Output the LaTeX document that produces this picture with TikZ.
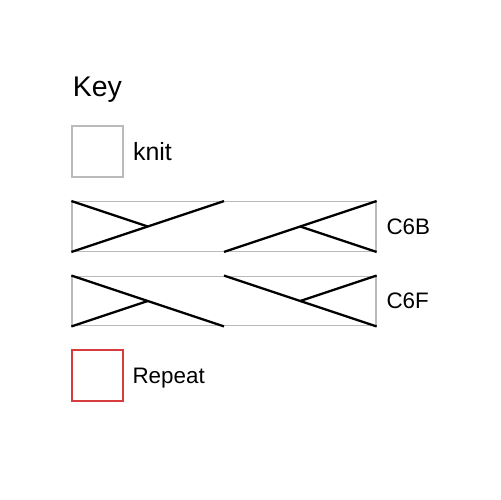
\documentclass[tikz,border=0pt]{standalone}
\usepackage{fontspec}
\setmainfont{Liberation Sans}
\usetikzlibrary{positioning,calc}
\definecolor{repeatred}{RGB}{214,60,60}

\begin{document}
\begin{tikzpicture}[x=0.02cm,y=-0.02cm,
    stitchbox/.style={draw=black!27,line width=0.8pt,inner sep=0pt,
        minimum width=1.02cm,minimum height=1.02cm},
    cablebox/.style={stitchbox,minimum width=6.08cm,minimum height=0.99cm},
    repeatbox/.style={stitchbox,draw=repeatred},
    cableline/.style={line width=1.3pt,black},
    keylabel/.style={inner sep=0pt,text depth=0pt,font=\fontsize{12.75}{15}\selectfont}]

\useasboundingbox (0,0) rectangle (500,500);

\node[anchor=base west,inner sep=0pt,font=\fontsize{16.2}{19}\selectfont] (key) at (72.5,96) {Key};

\node[stitchbox] (knit) at (97.5,151.5) {};
\node[keylabel,font=\fontsize{14.2}{17}\selectfont,right=0.18cm of knit] (knitlbl) {knit};

% C6B
\node[cablebox] (cb) at (224,226.5) {};
\node[keylabel,right=0.19cm of cb] (cblbl) {C6B};
\draw[cableline] (cb.south west) -- ($(cb.north west)!0.5!(cb.north east)$);
\draw[cableline] (cb.north west) -- ($(cb.west)!0.25!(cb.east)$);
\draw[cableline] ($(cb.south west)!0.5!(cb.south east)$) -- (cb.north east);
\draw[cableline] ($(cb.west)!0.75!(cb.east)$) -- (cb.south east);

% C6F
\node[cablebox] (cf) at (224,301) {};
\node[keylabel,right=0.19cm of cf] (cflbl) {C6F};
\draw[cableline] (cf.north west) -- ($(cf.south west)!0.5!(cf.south east)$);
\draw[cableline] (cf.south west) -- ($(cf.west)!0.25!(cf.east)$);
\draw[cableline] ($(cf.north west)!0.5!(cf.north east)$) -- (cf.south east);
\draw[cableline] ($(cf.west)!0.75!(cf.east)$) -- (cf.north east);

\node[repeatbox] (rep) at (97.5,375.5) {};
\node[keylabel,right=0.17cm of rep] (replbl) {Repeat};

\end{tikzpicture}
\end{document}
